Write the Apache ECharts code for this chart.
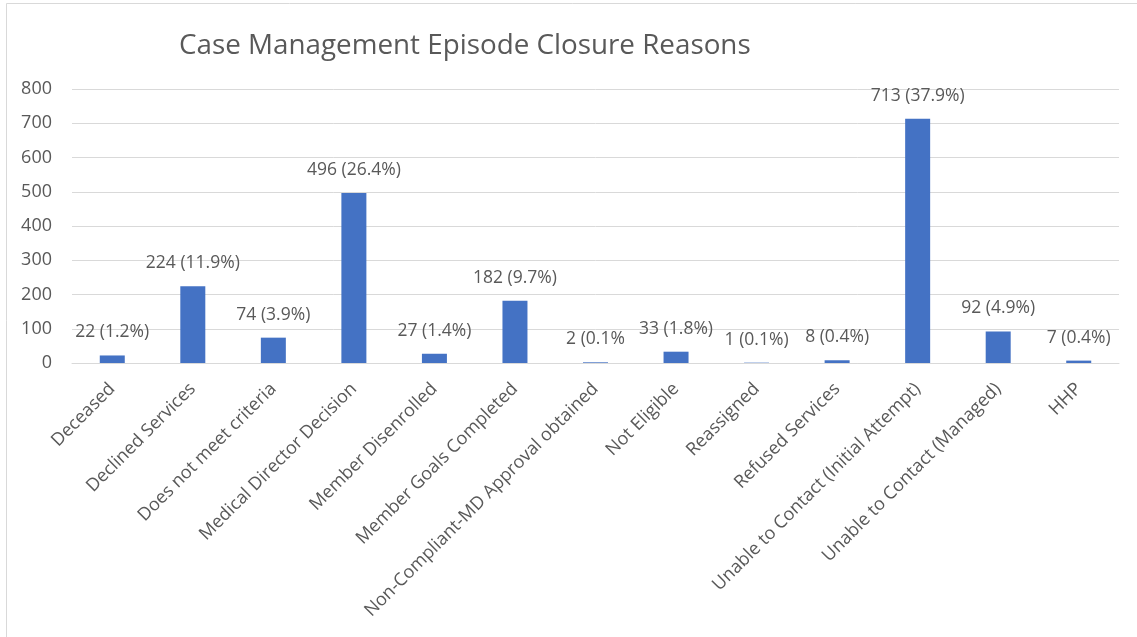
<!DOCTYPE html>
<html>
<head>
<meta charset="utf-8">
<script src="https://cdn.jsdelivr.net/npm/echarts@6/dist/echarts.min.js"></script>
<style>
  html, body { margin: 0; padding: 0; background: #ffffff; }
  #chart { width: 1137px; height: 637px; }
</style>
</head>
<body>
<div id="chart"></div>
<script>
// Closure reasons and episode counts
const categories = [
  'Deceased', 'Declined Services', 'Does not meet criteria', 'Medical Director Decision',
  'Member Disenrolled', 'Member Goals Completed', 'Non-Compliant-MD Approval obtained',
  'Not Eligible', 'Reassigned', 'Refused Services', 'Unable to Contact (Initial Attempt)',
  'Unable to Contact (Managed)', 'HHP'
];
const counts = [22, 224, 74, 496, 27, 182, 2, 33, 1, 8, 713, 92, 7];
const shareText = ['(1.2%)', '(11.9%)', '(3.9%)', '(26.4%)', '(1.4%)', '(9.7%)', '(0.1%',
  '(1.8%)', '(0.1%)', '(0.4%)', '(37.9%)', '(4.9%)', '(0.4%)'];
const yTicks = [0, 100, 200, 300, 400, 500, 600, 700, 800];

const FONT = '"Open Sans", sans-serif';
const TEXT = '#595959';

const chart = echarts.init(document.getElementById('chart'), null, { renderer: 'canvas' });
chart.setOption({
  animation: false,
  backgroundColor: '#ffffff',
  title: {
    text: 'Case Management Episode Closure Reasons',
    left: 174,
    top: 27,
    textStyle: { fontFamily: FONT, fontSize: 27.8, fontWeight: 'normal', color: TEXT }
  },
  graphic: [{
    type: 'rect',
    shape: { x: 6.5, y: 3.5, width: 1200, height: 700 },
    style: { fill: 'none', stroke: '#d9d9d9', lineWidth: 1 },
    silent: true
  }],
  grid: { left: 72, right: 18, top: 89, bottom: 274, containLabel: false },
  xAxis: {
    type: 'category',
    data: categories,
    boundaryGap: true,
    axisLine: { lineStyle: { color: '#d9d9d9', width: 1 } },
    axisTick: { show: false },
    axisLabel: {
      interval: 0,
      rotate: 45,
      margin: 23,
      fontFamily: FONT,
      fontSize: 18,
      color: TEXT
    }
  },
  yAxis: {
    type: 'value',
    min: yTicks[0],
    max: yTicks[yTicks.length - 1],
    interval: 100,
    axisLine: { show: false },
    axisTick: { show: false },
    splitLine: { lineStyle: { color: '#d9d9d9', width: 1 } },
    axisLabel: { margin: 20, fontFamily: FONT, fontSize: 18, color: TEXT }
  },
  series: [{
    type: 'bar',
    data: counts,
    barWidth: 25,
    itemStyle: { color: '#4472c4' },
    label: {
      show: true,
      position: 'top',
      distance: 14,
      fontFamily: FONT,
      fontSize: 17.5,
      color: TEXT,
      formatter: p => counts[p.dataIndex] + ' ' + shareText[p.dataIndex]
    }
  }]
});
</script>
</body>
</html>
